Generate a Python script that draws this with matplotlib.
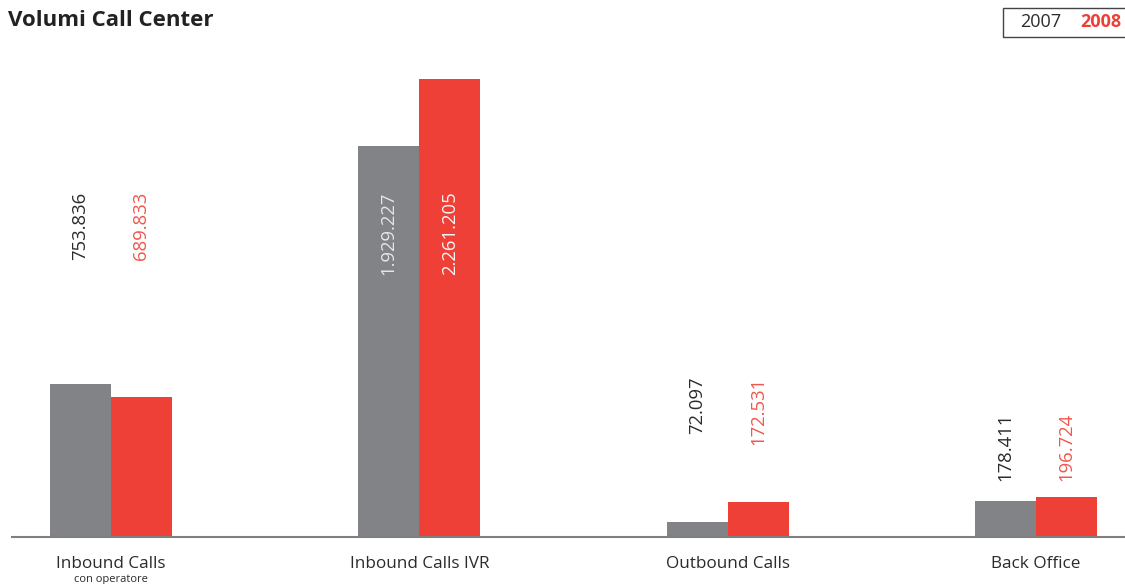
import numpy as np
import matplotlib.pyplot as plt
from matplotlib.patches import Rectangle

plt.rcParams['font.family'] = ['Open Sans', 'DejaVu Sans']

categories = ["Inbound Calls", "Inbound Calls IVR", "Outbound Calls", "Back Office"]
subtitles = ["con operatore", "", "", ""]
values_2007 = [753836, 1929227, 72097, 178411]
values_2008 = [689833, 2261205, 172531, 196724]
labels_2007 = ["753.836", "1.929.227", "72.097", "178.411"]
labels_2008 = ["689.833", "2.261.205", "172.531", "196.724"]

# top of each vertical value label (data units) and whether it sits inside the bar
label_tops = [1.705e6, 1.705e6, 0.79e6, 0.612e6]
label_inside = [False, True, False, False]

GRAY = "#828387"
RED = "#EE4036"

fig = plt.figure(figsize=(11.25, 5.84), dpi=100)
ax = fig.add_axes([12 / 1125, 47 / 584, 1 - 12 / 1125, 477 / 584])

x = np.arange(len(categories))
w = 0.198
ax.bar(x - w / 2, values_2007, width=w, color=GRAY)
ax.bar(x + w / 2, values_2008, width=w, color=RED)

for i in range(len(categories)):
    if label_inside[i]:
        c1, c2 = "#e6e6e6", "#f6f6f6"
    else:
        c1, c2 = "#2b2b2b", "#f0564c"
    ax.text(x[i] - w / 2, label_tops[i], labels_2007[i], rotation=90, ha="center", va="top",
            fontsize=13.3, color=c1)
    ax.text(x[i] + w / 2, label_tops[i], labels_2008[i], rotation=90, ha="center", va="top",
            fontsize=13.3, color=c2)

ax.set_xlim(-0.321, 3.289)
ax.set_ylim(0, 2.353e6)
for s in ["top", "right", "left"]:
    ax.spines[s].set_visible(False)
ax.spines["bottom"].set_color("#7f7f7f")
ax.spines["bottom"].set_linewidth(1.5)
ax.set_yticks([])
ax.set_xticks(x)
ax.set_xticklabels(categories, fontsize=12.3, color="#2b2b2b")
ax.tick_params(axis="x", length=0, pad=14)
for i, s in enumerate(subtitles):
    if s:
        ax.text(x[i], -0.21e6, s, ha="center", va="center", fontsize=8, color="#2b2b2b")

fig.text(8 / 1125, 1 - 21 / 584, "Volumi Call Center", fontsize=16, fontweight="bold",
         color="#222222", va="center", ha="left")

fig.patches.append(Rectangle((1003 / 1125, 1 - 37 / 584), 125 / 1125, 29 / 584,
                             transform=fig.transFigure, fill=False, edgecolor="#444444",
                             linewidth=1.0))
fig.text(1041 / 1125, 1 - 22 / 584, "2007", fontsize=13, color="#2b2b2b", ha="center", va="center")
fig.text(1101 / 1125, 1 - 22 / 584, "2008", fontsize=13, color=RED, fontweight="bold",
         ha="center", va="center")

fig.savefig("out.png", dpi=100)
